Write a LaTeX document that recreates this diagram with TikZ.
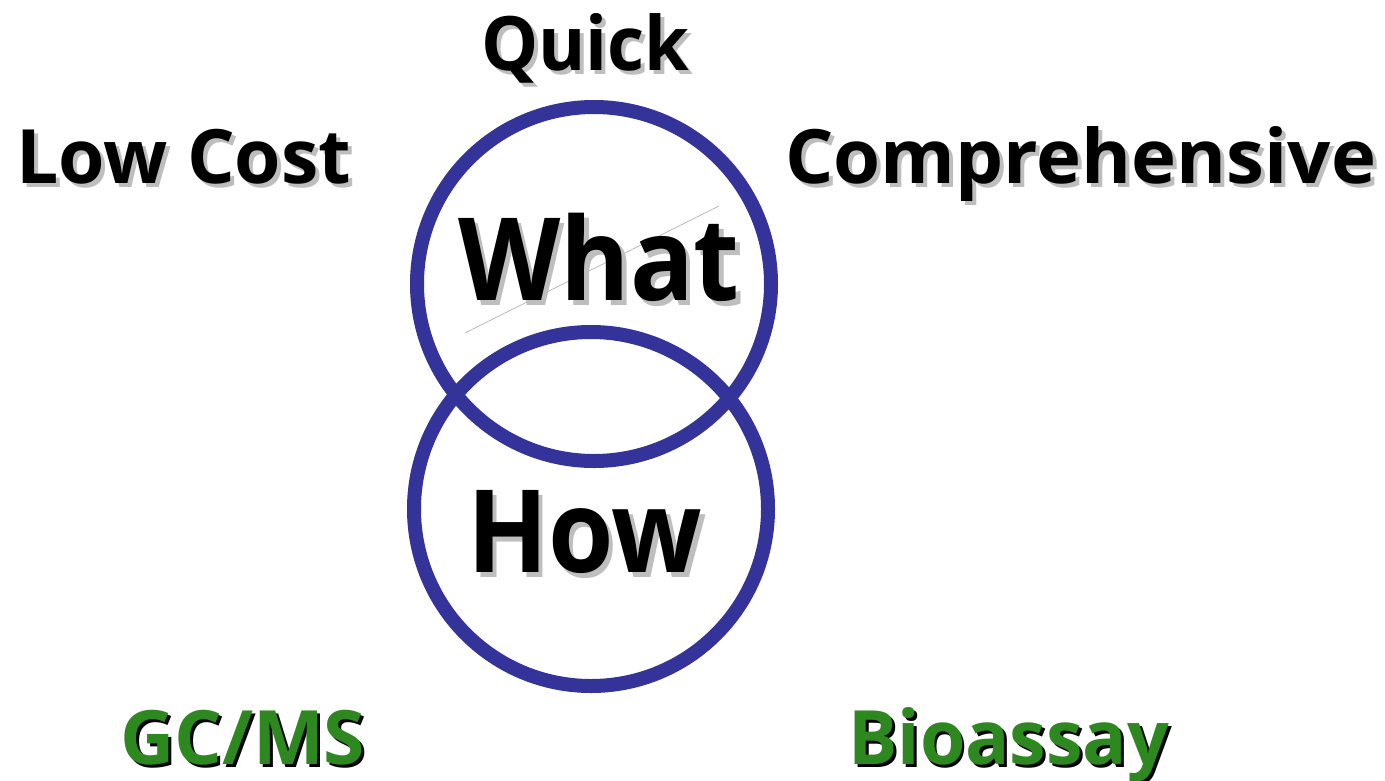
\documentclass[tikz,border=0pt]{standalone}
\usepackage{fontspec}
\setmainfont{Open Sans}
\definecolor{ringblue}{RGB}{51,51,153}
\definecolor{shadowgray}{RGB}{190,190,190}
\definecolor{labgreen}{RGB}{46,136,32}
\newcommand\shtext[3]{\rlap{\hspace*{#3}\raisebox{-#3}{\textcolor{#1}{#2}}}#2}
\tikzset{
  ring/.style={draw=ringblue,line width=14pt},
  lab/.style={inner sep=0pt,anchor=base west,font=\bfseries\fontsize{75}{80}\selectfont},
  big/.style={inner sep=0pt,anchor=base west,font=\bfseries\fontsize{115}{120}\selectfont},
}
\begin{document}
\begin{tikzpicture}[x=1pt,y=-1pt]
\useasboundingbox (0,0) rectangle (1385,780);
\fill[white] (0,0) rectangle (1385,780);
\coordinate (la) at (465,333);
\coordinate (lb) at (719,206);
\draw[gray!70,line width=0.6pt] (la) -- (lb);
\node[big] (what) at (458,300) {\scalebox{0.92}[1]{\shtext{shadowgray}{What}{5pt}}};
\node[big] (how) at (467,572) {\scalebox{0.92}[1]{\shtext{shadowgray}{How}{5pt}}};
\draw[ring] (594,284) circle[radius=177] node (c1) {};
\draw[ring] (591,509) circle[radius=177] node (c2) {};
\node[lab] (quick) at (481,70) {\scalebox{0.96}[1]{\shtext{shadowgray}{Quick}{4pt}}};
\node[lab] (low) at (16,183) {\shtext{shadowgray}{Low Cost}{4pt}};
\node[lab] (comp) at (785,183) {\scalebox{1.015}[1]{\shtext{shadowgray}{Comprehensive}{4pt}}};
\node[lab,text=labgreen] (gc) at (120,764) {\shtext{black}{GC/MS}{3pt}};
\node[lab,text=labgreen] (bio) at (848,764) {\scalebox{0.98}[1]{\shtext{black}{Bioassay}{3pt}}};
\end{tikzpicture}
\end{document}
